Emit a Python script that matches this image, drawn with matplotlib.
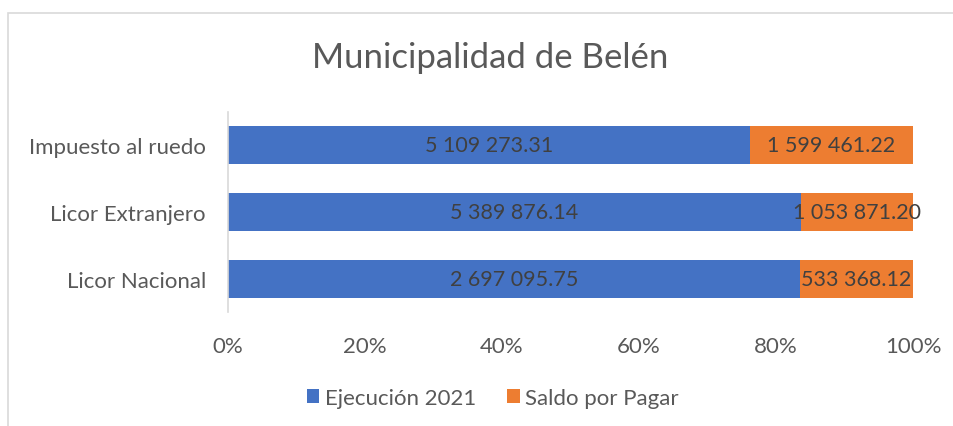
import numpy as np
import matplotlib.pyplot as plt
from matplotlib.patches import Rectangle

plt.rcParams['font.family'] = ['Lato', 'DejaVu Sans']

# data (bottom to top)
categories = ["Licor Nacional", "Licor Extranjero", "Impuesto al ruedo"]
ejecucion = np.array([2697095.75, 5389876.14, 5109273.31])
saldo = np.array([533368.12, 1053871.20, 1599461.22])
series_names = ["Ejecución 2021", "Saldo por Pagar"]

blue = "#4472C4"
orange = "#ED7D31"
txt = "#595959"

total = ejecucion + saldo
p_ej = ejecucion / total
p_sa = saldo / total

fig = plt.figure(figsize=(9.54, 4.27), dpi=100)
# outer chart border (light gray)
fig.add_artist(Rectangle((8/954, -0.1), 2, 1 - 14/427 + 0.1, transform=fig.transFigure,
                         fill=False, edgecolor="#d9d9d9", linewidth=1.2))

ax = fig.add_axes([228/954, 1 - 313/427, 685/954, 200/427])
y = np.arange(len(categories))
ax.barh(y, p_ej, height=0.57, color=blue, label=series_names[0])
ax.barh(y, p_sa, left=p_ej, height=0.57, color=orange, label=series_names[1])

def fmt(v):
    s = f"{v:,.2f}"
    return s.replace(",", " ")

for i in range(len(categories)):
    ax.text(p_ej[i] / 2, y[i], fmt(ejecucion[i]), ha="center", va="center",
            fontsize=15.5, color="#404040")
    ax.text(p_ej[i] + p_sa[i] / 2, y[i], fmt(saldo[i]), ha="center", va="center",
            fontsize=15.5, color="#404040")

ax.set_xlim(0, 1)
ax.set_ylim(-0.5, 2.5)
ax.set_yticks(y)
ax.set_yticklabels(categories, fontsize=16, color=txt)
ax.set_xticks(np.linspace(0, 1, 6))
ax.set_xticklabels([f"{int(v*100)}%" for v in np.linspace(0, 1, 6)], fontsize=16, color=txt)
ax.tick_params(axis="y", length=0, pad=16)
ax.tick_params(axis="x", length=0, pad=17)
for s in ["top", "right", "bottom"]:
    ax.spines[s].set_visible(False)
ax.spines["left"].set_color("#d9d9d9")
ax.spines["left"].set_linewidth(1.2)

fig.text(490/954, 1 - 58/427, "Municipalidad de Belén", ha="center", va="center",
         fontsize=25, color=txt)

leg = fig.legend(loc="center", bbox_to_anchor=(493/954, 1 - 399/427), ncol=2, frameon=False,
                 fontsize=16, handlelength=0.55, handleheight=0.55, handletextpad=0.25,
                 columnspacing=1.4, labelcolor=txt)

fig.savefig("out.png", dpi=100)
